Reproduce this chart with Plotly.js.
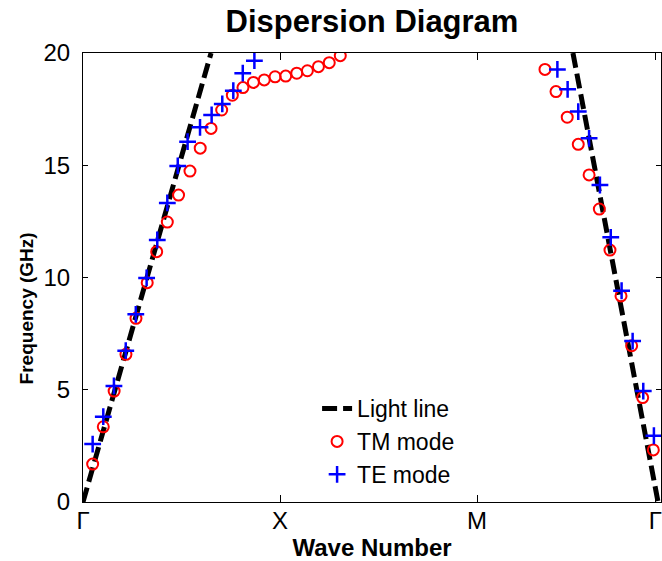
<!DOCTYPE html>
<html>
<head>
<meta charset="utf-8">
<script src="https://cdn.plot.ly/plotly-3.0.1.min.js"></script>
<style>html,body{margin:0;padding:0;background:#fff;}#chart{width:662px;height:561px;}</style>
</head>
<body>
<div id="chart"></div>
<script>
// Tick positions along the Brillouin-zone path
var kTickVals = [0, 1, 2, 2.905];
var kTickText = ['Γ', 'X', 'M', 'Γ'];
var freqTicks = [0, 5, 10, 15, 20];

// Light line (two branches, separated by a gap)
var lightK = [0, 0.65, null, 2.487, 2.919];
var lightF = [0, 20, null, 20, 0];

// TM mode (red circles)
var tmK = [0.049, 0.103, 0.158, 0.218, 0.269, 0.326, 0.374, 0.428, 0.485, 0.543, 0.595, 0.650,
           0.704, 0.758, 0.812, 0.865, 0.920, 0.975, 1.029, 1.085, 1.139, 1.195, 1.250, 1.306,
           null,
           2.345, 2.401, 2.458, 2.514, 2.569, 2.621, 2.675, 2.731, 2.785, 2.841, 2.895];
var tmF = [1.69, 3.35, 4.94, 6.58, 8.18, 9.77, 11.15, 12.47, 13.67, 14.74, 15.76, 16.64,
           17.46, 18.12, 18.46, 18.69, 18.80, 18.94, 18.97, 19.10, 19.21, 19.39, 19.57, 19.88,
           null,
           19.27, 18.28, 17.14, 15.93, 14.57, 13.05, 11.22, 9.18, 6.96, 4.65, 2.32];

// TE mode (blue plus)
var teK = [0.049, 0.103, 0.157, 0.217, 0.268, 0.323, 0.377, 0.428, 0.481, 0.531, 0.594, 0.653,
           0.707, 0.763, 0.811, 0.870,
           null,
           2.408, 2.460, 2.514, 2.569, 2.624, 2.679, 2.734, 2.790, 2.844, 2.898];
var teF = [2.58, 3.80, 5.17, 6.74, 8.36, 9.98, 11.67, 13.32, 14.97, 16.05, 16.69, 17.24,
           17.73, 18.32, 19.10, 19.66,
           null,
           19.27, 18.38, 17.39, 16.20, 14.12, 11.79, 9.41, 7.17, 4.94, 2.95];

var FONT = 'Liberation Sans, Arial, sans-serif';

var traces = [
  {x: lightK, y: lightF, name: 'Light line', mode: 'lines', connectgaps: false,
   line: {color: '#000', width: 5, dash: '15px,6px'}},
  {x: tmK, y: tmF, name: 'TM mode', mode: 'markers',
   marker: {symbol: 'circle-open', size: 11, color: '#ff0000', line: {width: 2, color: '#ff0000'}}},
  {x: teK, y: teF, name: 'TE mode', mode: 'markers',
   marker: {symbol: 'cross-thin-open', size: 12, color: '#0000ff', line: {width: 2.5, color: '#0000ff'}}}
];

var layout = {
  width: 662, height: 561,
  margin: {l: 83, r: 1, t: 53, b: 59, pad: 0},
  paper_bgcolor: '#fff', plot_bgcolor: '#fff',
  font: {family: FONT, size: 23, color: '#000'},
  title: {text: 'Dispersion Diagram', font: {family: FONT, size: 31, weight: 'bold', color: '#000'},
          xref: 'paper', x: 0.5, xanchor: 'center', yref: 'container', y: 0.962, yanchor: 'middle'},
  xaxis: {
    range: [0, 2.934], tickmode: 'array', tickvals: kTickVals, ticktext: kTickText,
    ticks: 'inside', ticklen: 7, tickwidth: 1, tickcolor: '#000',
    showline: true, linecolor: '#000', linewidth: 1, mirror: 'ticks',
    showgrid: false, zeroline: false, ticklabelstandoff: -3, ticklabeloverflow: 'allow',
    tickfont: {family: FONT, size: 24, color: '#000'},
    title: {text: 'Wave Number', font: {family: FONT, size: 24, weight: 'bold', color: '#000'}, standoff: 8}
  },
  yaxis: {
    range: [0, 20], tickmode: 'array', tickvals: freqTicks,
    ticks: 'inside', ticklen: 5, tickwidth: 1, tickcolor: '#000',
    showline: true, linecolor: '#000', linewidth: 1, mirror: 'ticks',
    showgrid: false, zeroline: false, ticklabelstandoff: 7,
    tickfont: {family: FONT, size: 24, color: '#000'}
  },
  annotations: [
    {text: 'Frequency (GHz)', xref: 'paper', yref: 'paper', x: -0.098, y: 0.432,
     xanchor: 'center', yanchor: 'middle', textangle: -90, showarrow: false,
     font: {family: FONT, size: 19, weight: 'bold', color: '#000'}}
  ],
  showlegend: true,
  legend: {x: 0.405, y: 0.256, xanchor: 'left', yanchor: 'top', bgcolor: 'rgba(0,0,0,0)',
           borderwidth: 0, font: {family: FONT, size: 23, color: '#000'}, tracegroupgap: 0}
};

Plotly.newPlot('chart', traces, layout, {displayModeBar: false, staticPlot: true});
</script>
</body>
</html>
